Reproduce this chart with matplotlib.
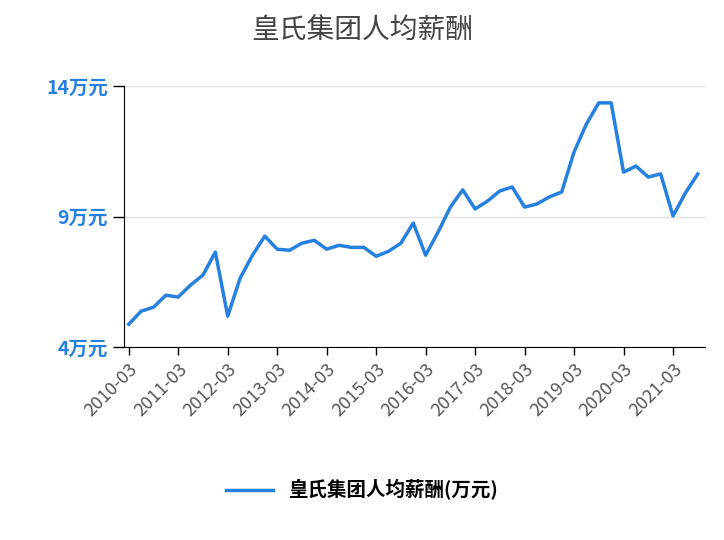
import matplotlib
matplotlib.use("Agg")
import matplotlib.pyplot as plt

plt.rcParams['font.family'] = ['Noto Sans CJK SC', 'DejaVu Sans']

dates = []
for y in range(2010, 2022):
    for m in ("03", "06", "09", "12"):
        dates.append(f"{y}-{m}")
dates = dates[:47]
values = [4.88, 5.38, 5.53, 5.99, 5.92, 6.38, 6.76, 7.64, 5.19, 6.64, 7.52, 8.25,
          7.75, 7.71, 7.98, 8.09, 7.75, 7.90, 7.82, 7.82, 7.48, 7.67, 7.98, 8.75,
          7.52, 8.40, 9.36, 10.02, 9.29, 9.59, 9.98, 10.13, 9.36, 9.48, 9.75, 9.94,
          11.47, 12.54, 13.35, 13.35, 10.70, 10.93, 10.51, 10.63, 9.02, 9.90, 10.63]
yticks = [4, 9, 14]
ylabels = ["4万元", "9万元", "14万元"]

fig = plt.figure(figsize=(7.24, 5.4), dpi=100)
ax = fig.add_axes([0.171, 0.357, 0.803, 0.484])
x = list(range(len(values)))
ax.plot(x, values, color="#2680e0", lw=2.5, label="皇氏集团人均薪酬(万元)")
ax.set_xlim(-0.4, 46.6)
ax.set_ylim(4, 14)
ax.set_yticks(yticks)
ax.set_yticklabels(ylabels, color="#2680e0", fontsize=14, fontweight="bold")
ax.set_xticks(x[::4])
ax.set_xticklabels(dates[::4], rotation=45, ha="right", rotation_mode="anchor",
                   fontsize=13, color="#555555")
ax.grid(axis="y", color="#e0e0e0", lw=1)
ax.set_axisbelow(True)
for s in ("top", "right"):
    ax.spines[s].set_visible(False)
ax.tick_params(axis="y", length=8, width=1)
ax.tick_params(axis="x", length=6, width=1)
fig.suptitle("皇氏集团人均薪酬", y=0.97, fontsize=20, color="#444444")
fig.legend(loc="center", bbox_to_anchor=(0.5, 0.093), frameon=False,
           prop={"size": 14, "weight": "bold"}, handlelength=2.4)
fig.savefig("out.png", dpi=100)
